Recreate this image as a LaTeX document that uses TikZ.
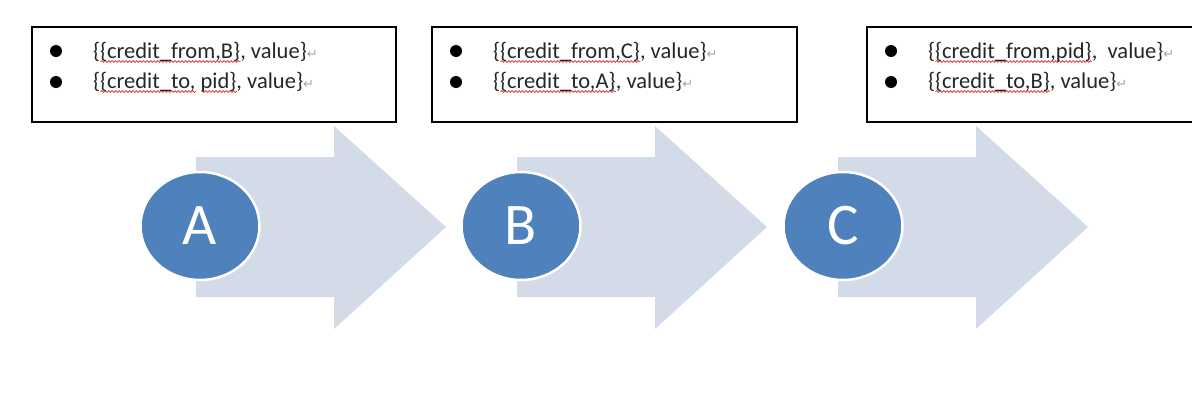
\documentclass[tikz,border=0pt]{standalone}
\usepackage{fontspec}
\setmainfont{Carlito}
\newfontfamily\symfont{DejaVu Sans}
\usetikzlibrary{shapes.geometric,decorations.pathmorphing}
\definecolor{circblue}{HTML}{4F81BD}
\definecolor{arrowfill}{HTML}{D3DBE9}
\definecolor{wavered}{HTML}{E04848}
\newsavebox\wvbox
\newcommand\redwave[1]{\sbox\wvbox{#1}\rlap{\tikz[baseline=0pt]\draw[wavered, line width=0.8pt, decorate, decoration={snake, amplitude=0.9pt, segment length=3.5pt}] (0pt,-3.5pt) -- (\the\wd\wvbox,-3.5pt);}\usebox\wvbox}
\newcommand\pmark{{\symfont\color{gray!70}\fontsize{13}{13}\selectfont ↵}}
\tikzset{
  infobox/.style={draw=black, line width=1.1pt, fill=none},
  procarrow/.style={fill=arrowfill, draw=none},
  stepcirc/.style={ellipse, fill=circblue, draw=white, line width=2.5pt,
    minimum width=119pt, minimum height=108pt, inner sep=0pt,
    text=white, font=\fontsize{59}{59}\selectfont},
  bulletdot/.style={circle, fill=black, minimum size=12pt, inner sep=0pt},
  itemtext/.style={anchor=base west, inner sep=0pt, outer sep=0pt,
    font=\fontsize{22.5}{22.5}\selectfont, text=black!85}
}
\begin{document}
\begin{tikzpicture}[x=1pt,y=-1pt]
\useasboundingbox (0,0) rectangle (1192,402);
% boxes
\draw[infobox] (32,27) rectangle (396,122);
\draw[infobox] (432,27) rectangle (797,122);
\draw[infobox] (1194,27) -- (867,27) -- (867,122) -- (1194,122);
% arrows
\foreach \o in {0,321,642}{
  \fill[procarrow] (196+\o,157) -- (334+\o,157) -- (334+\o,126) -- (446+\o,227)
     -- (334+\o,329) -- (334+\o,297) -- (196+\o,297) -- cycle;
}
% circles
\node[stepcirc] (A) at (200,226) {A};
\node[stepcirc] (B) at (521,226) {B};
\node[stepcirc] (C) at (843,226) {C};
% bullets
\node[bulletdot] (b1a) at (56,51) {};
\node[bulletdot] (b1b) at (56,82) {};
\node[bulletdot] (b2a) at (456,51) {};
\node[bulletdot] (b2b) at (456,82) {};
\node[bulletdot] (b3a) at (891,51) {};
\node[bulletdot] (b3b) at (891,82) {};
% texts
\node[itemtext] (t1a) at (93,58) {\{\redwave{\{credit\_from,B\}}, value\}\pmark};
\node[itemtext] (t1b) at (93,88) {\{\redwave{\{credit\_to,} \redwave{pid\}}, value\}\pmark};
\node[itemtext] (t2a) at (493,58) {\{\redwave{\{credit\_from,C\}}, value\}\pmark};
\node[itemtext] (t2b) at (493,88) {\{\redwave{\{credit\_to,A\}}, value\}\pmark};
\node[itemtext] (t3a) at (928,58) {\{\redwave{\{credit\_from,pid\}},~ value\}\pmark};
\node[itemtext] (t3b) at (928,88) {\{\redwave{\{credit\_to,B\}}, value\}\pmark};
\end{tikzpicture}
\end{document}
